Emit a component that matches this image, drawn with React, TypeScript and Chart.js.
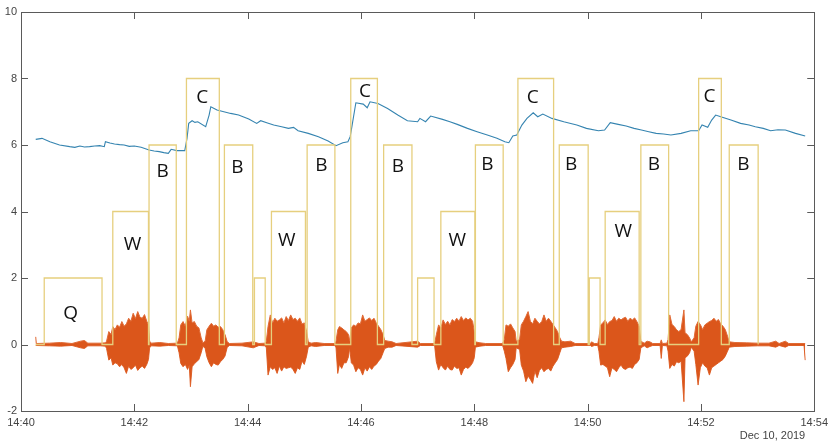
import React, { useEffect, useRef } from "react";
import { Chart, registerables } from "chart.js";

Chart.register(...registerables);

// ---- axis ----
const X_TICK_LABELS = ["14:40", "14:42", "14:44", "14:46", "14:48", "14:50", "14:52", "14:54"];
const DATE_LABEL = "Dec 10, 2019";

// ---- blue series (minutes after 14:40, value) ----
const BLUE_T = [0.26, 0.37, 0.51, 0.68, 0.86, 0.95, 1.04, 1.12, 1.21, 1.30, 1.39, 1.47, 1.49, 1.57, 1.65, 1.74, 1.82, 1.91, 2.0, 2.12, 2.26, 2.35, 2.44, 2.52, 2.6, 2.65, 2.75, 2.89, 2.93, 2.96, 3.02, 3.07, 3.12, 3.26, 3.32, 3.35, 3.46, 3.58, 3.7, 3.84, 4.02, 4.16, 4.23, 4.35, 4.46, 4.6, 4.72, 4.81, 4.89, 5.07, 5.25, 5.42, 5.56, 5.68, 5.77, 5.81, 5.84, 5.91, 6.04, 6.11, 6.16, 6.3, 6.47, 6.65, 6.82, 7.0, 7.04, 7.14, 7.23, 7.44, 7.57, 7.7, 7.88, 8.05, 8.23, 8.4, 8.54, 8.61, 8.68, 8.75, 8.84, 8.93, 9.04, 9.12, 9.21, 9.37, 9.58, 9.81, 9.98, 10.19, 10.3, 10.4, 10.54, 10.68, 10.82, 10.95, 11.08, 11.21, 11.34, 11.47, 11.65, 11.82, 11.96, 12.02, 12.12, 12.19, 12.26, 12.35, 12.53, 12.7, 12.85, 12.96, 13.1, 13.23, 13.36, 13.49, 13.67, 13.84];
const BLUE_V = [6.17, 6.2, 6.1, 6.0, 5.95, 5.93, 5.97, 5.94, 5.95, 5.97, 5.98, 5.95, 6.1, 6.06, 6.03, 6.01, 6.0, 5.96, 5.97, 5.93, 5.85, 5.82, 5.8, 5.77, 5.75, 5.87, 5.83, 5.83, 6.2, 6.65, 6.73, 6.68, 6.7, 6.55, 6.9, 7.15, 7.05, 7.0, 6.95, 6.9, 6.78, 6.65, 6.73, 6.66, 6.6, 6.55, 6.5, 6.53, 6.43, 6.35, 6.25, 6.12, 5.98, 6.07, 6.1, 6.25, 6.55, 7.27, 7.23, 7.12, 7.3, 7.25, 7.1, 6.9, 6.73, 6.7, 6.8, 6.7, 6.87, 6.77, 6.7, 6.62, 6.5, 6.4, 6.3, 6.2, 6.1, 6.07, 6.27, 6.3, 6.6, 6.8, 6.97, 6.85, 6.93, 6.8, 6.7, 6.6, 6.5, 6.43, 6.45, 6.67, 6.62, 6.57, 6.5, 6.45, 6.4, 6.35, 6.33, 6.3, 6.35, 6.43, 6.43, 6.6, 6.53, 6.75, 6.9, 6.85, 6.75, 6.65, 6.6, 6.55, 6.5, 6.43, 6.46, 6.45, 6.35, 6.27];

// ---- orange signal envelope (minutes, upper, lower) ----
const ORANGE_T = [0.26, 0.27, 0.5, 0.7, 0.9, 1.05, 1.12, 1.18, 1.4, 1.49,
  1.51, 1.55, 1.59, 1.62, 1.66, 1.7, 1.74, 1.78, 1.82, 1.86, 1.9, 1.94, 1.98, 2.02, 2.06, 2.1, 2.14, 2.18, 2.22, 2.25, 2.27, 2.3,
  2.45, 2.6, 2.76,
  2.79, 2.82, 2.86, 2.9, 2.94, 2.97, 2.99, 3.02, 3.06, 3.1, 3.14, 3.18, 3.21,
  3.25, 3.28, 3.32, 3.36, 3.4, 3.44, 3.48, 3.52, 3.56, 3.6, 3.64, 3.68,
  3.9, 4.1, 4.2, 4.31,
  4.33, 4.36, 4.4, 4.44, 4.48, 4.52, 4.56, 4.6, 4.64, 4.68, 4.72, 4.76, 4.8, 4.84, 4.88, 4.92, 4.96, 5.0, 5.04, 5.07, 5.12, 5.2, 5.35, 5.54,
  5.56, 5.59, 5.62, 5.66, 5.7, 5.74, 5.78, 5.8,
  5.83, 5.87, 5.91, 5.95, 5.99, 6.03, 6.07, 6.11, 6.15, 6.19, 6.23, 6.27, 6.31, 6.35, 6.39, 6.42, 6.48, 6.55, 6.62, 7.0, 7.05, 7.3,
  7.33, 7.37, 7.41, 7.45, 7.49, 7.53, 7.57, 7.61, 7.65, 7.69, 7.73, 7.77, 7.81, 7.85, 7.89, 7.93, 7.97, 8.0, 8.02, 8.1, 8.2, 8.5,
  8.53, 8.56, 8.6, 8.64, 8.68, 8.72, 8.74,
  8.8, 8.83, 8.87, 8.91, 8.95, 8.99, 9.03, 9.07, 9.11, 9.15, 9.19, 9.23, 9.27, 9.31, 9.35, 9.39, 9.43, 9.47, 9.51, 9.54, 9.6, 9.7, 9.78, 10.05, 10.07, 10.12, 10.18,
  10.2, 10.23, 10.27, 10.31, 10.35, 10.39, 10.43, 10.47, 10.51, 10.55, 10.59, 10.63, 10.67, 10.71, 10.75, 10.79, 10.83, 10.87, 10.91, 10.94, 11.0, 11.05, 11.1, 11.15, 11.28, 11.3, 11.32, 11.4,
  11.42, 11.45, 11.49, 11.53, 11.57, 11.61, 11.65, 11.7, 11.72, 11.76, 11.8, 11.83,
  11.88, 11.91, 11.95, 11.99, 12.03, 12.07, 12.11, 12.15, 12.19, 12.23, 12.27, 12.31, 12.35, 12.39, 12.43, 12.47, 12.5, 12.6, 12.8, 13.0, 13.2, 13.32, 13.38, 13.49, 13.55, 13.82, 13.84];
const ORANGE_HI = [0.23, 0.03, 0.04, 0.06, 0.03, 0.1, 0.12, 0.04, 0.04, 0.05,
  0.1, 0.39, 0.3, 0.54, 0.45, 0.59, 0.52, 0.69, 0.55, 0.62, 0.79, 0.7, 0.94, 0.78, 0.99, 0.82, 0.79, 0.9, 0.7, 0.6, 0.1, 0.04,
  0.06, 0.03, 0.04,
  0.2, 0.59, 0.69, 0.55, 0.85, 0.7, 1.04, 0.65, 0.69, 0.55, 0.5, 0.2, 0.05,
  0.1, 0.44, 0.55, 0.64, 0.55, 0.59, 0.52, 0.54, 0.45, 0.3, 0.08, 0.03,
  0.04, 0.08, 0.03, 0.04,
  0.1, 0.54, 0.89, 0.65, 0.79, 0.7, 0.74, 0.8, 0.65, 0.84, 0.72, 0.89, 0.75, 0.79, 0.7, 0.8, 0.62, 0.65, 0.4, 0.08, 0.04, 0.06, 0.03, 0.03,
  0.1, 0.44, 0.54, 0.5, 0.44, 0.39, 0.3, 0.1,
  0.5, 0.59, 0.55, 0.65, 0.62, 0.89, 0.7, 0.75, 0.8, 0.72, 0.79, 0.65, 0.55, 0.45, 0.3, 0.12, 0.1, 0.08, 0.03, 0.1, 0.03, 0.03,
  0.29, 0.59, 0.5, 0.74, 0.6, 0.7, 0.59, 0.75, 0.69, 0.79, 0.7, 0.84, 0.72, 0.8, 0.74, 0.79, 0.7, 0.4, 0.08, 0.05, 0.03, 0.03,
  0.15, 0.59, 0.55, 0.62, 0.5, 0.39, 0.1,
  0.15, 0.59, 0.7, 0.84, 0.99, 0.7, 0.62, 0.79, 0.7, 0.62, 0.69, 0.89, 0.7, 0.79, 0.7, 0.6, 0.5, 0.39, 0.2, 0.1, 0.08, 0.1, 0.03, 0.03, 0.08, 0.03, 0.03,
  0.2, 0.59, 0.65, 0.74, 0.6, 0.69, 0.72, 0.84, 0.7, 0.79, 0.74, 0.79, 0.82, 0.7, 0.79, 0.74, 0.8, 0.69, 0.55, 0.1, 0.04, 0.1, 0.08, 0.03, 0.03, 0.14, 0.03, 0.04,
  0.15, 0.89, 0.6, 0.54, 0.44, 0.39, 0.45, 1.04, 0.35, 0.3, 0.2, 0.08,
  0.2, 0.55, 0.69, 0.6, 0.45, 0.59, 0.64, 0.69, 0.72, 0.79, 0.7, 0.75, 0.62, 0.55, 0.45, 0.25, 0.08, 0.06, 0.05, 0.04, 0.04, 0.1, 0.03, 0.1, 0.03, 0.03, 0.03];
const ORANGE_LO = [-0.03, -0.03, -0.04, -0.05, -0.03, -0.1, -0.12, -0.04, -0.04, -0.05,
  -0.12, -0.47, -0.4, -0.62, -0.55, -0.58, -0.67, -0.6, -0.7, -0.87, -0.65, -0.75, -0.7, -0.62, -0.78, -0.7, -0.65, -0.72, -0.6, -0.45, -0.1, -0.04,
  -0.05, -0.03, -0.04,
  -0.25, -0.57, -0.67, -0.6, -0.75, -0.62, -1.27, -0.67, -0.58, -0.52, -0.45, -0.25, -0.05,
  -0.12, -0.37, -0.55, -0.67, -0.55, -0.6, -0.62, -0.52, -0.45, -0.35, -0.08, -0.03,
  -0.04, -0.1, -0.03, -0.04,
  -0.1, -0.92, -0.67, -0.75, -0.7, -0.87, -0.65, -0.8, -0.67, -0.72, -0.7, -0.68, -0.75, -0.87, -0.7, -0.75, -0.5, -0.6, -0.35, -0.08, -0.04, -0.06, -0.03, -0.03,
  -0.1, -0.87, -0.6, -0.72, -0.55, -0.55, -0.37, -0.1,
  -0.55, -0.62, -0.82, -0.7, -0.75, -0.92, -0.7, -0.8, -0.67, -0.75, -0.65, -0.6, -0.5, -0.42, -0.25, -0.12, -0.08, -0.08, -0.03, -0.08, -0.03, -0.03,
  -0.52, -0.77, -0.6, -0.7, -0.77, -0.65, -0.75, -0.77, -0.65, -0.72, -0.7, -0.92, -0.75, -0.68, -0.72, -0.65, -0.55, -0.4, -0.08, -0.05, -0.03, -0.03,
  -0.2, -0.42, -0.82, -0.7, -0.6, -0.45, -0.1,
  -0.15, -0.62, -0.8, -1.12, -0.95, -1.05, -1.17, -0.8, -1.0, -0.78, -0.7, -0.82, -0.75, -0.72, -0.8, -0.65, -0.55, -0.45, -0.25, -0.1, -0.08, -0.06, -0.03, -0.03, -0.06, -0.03, -0.03,
  -0.2, -0.62, -0.6, -0.65, -0.7, -0.97, -0.7, -0.75, -0.82, -0.7, -0.62, -0.72, -0.75, -0.7, -0.68, -0.72, -0.6, -0.55, -0.45, -0.1, -0.04, -0.1, -0.06, -0.03, -0.03, -0.42, -0.03, -0.04,
  -0.2, -0.72, -0.6, -0.65, -0.52, -0.55, -0.5, -1.72, -0.4, -0.35, -0.25, -0.08,
  -0.2, -0.6, -1.22, -0.7, -0.55, -0.65, -0.7, -0.92, -0.7, -0.65, -0.6, -0.55, -0.5, -0.45, -0.35, -0.2, -0.08, -0.06, -0.05, -0.04, -0.04, -0.08, -0.03, -0.08, -0.03, -0.03, -0.47];

// ---- yellow rectangles ----
const YELLOW_BEGIN = 0.26;
const YELLOW_FINISH = 13.01;
const YELLOW_START = [0.41, 1.62, 2.26, 2.92, 3.59, 4.12, 4.42, 5.05, 5.82, 6.4, 7.0, 7.41, 8.02, 8.77, 9.5, 10.03, 10.31, 10.94, 11.96, 12.5];
const YELLOW_END = [1.43, 2.25, 2.74, 3.5, 4.09, 4.31, 5.02, 5.54, 6.29, 6.9, 7.29, 8.01, 8.51, 9.4, 10.01, 10.22, 10.91, 11.43, 12.36, 13.01];
const YELLOW_LEVEL = [2, 4, 6, 8, 6, 2, 4, 6, 8, 6, 2, 4, 6, 8, 6, 2, 4, 6, 8, 6];

// ---- text labels ----
const LABEL_TEXT = ["Q", "W", "B", "C", "B", "W", "B", "C", "B", "W", "B", "C", "B", "W", "B", "C", "B"];
const LABEL_X = [0.875, 1.97, 2.5, 3.2, 3.82, 4.69, 5.3, 6.07, 6.65, 7.7, 8.23, 9.03, 9.71, 10.63, 11.17, 12.15, 12.75];
const LABEL_Y = [0.94, 2.99, 5.2, 7.43, 5.32, 3.14, 5.38, 7.6, 5.35, 3.14, 5.4, 7.43, 5.4, 3.39, 5.4, 7.45, 5.4];

export default function App() {
  const ref = useRef<HTMLCanvasElement | null>(null);

  useEffect(() => {
    if (!ref.current) return;

    const yellowPts: { x: number; y: number }[] = [{ x: YELLOW_BEGIN, y: 0 }];
    YELLOW_START.forEach((s, i) => {
      yellowPts.push({ x: s, y: 0 }, { x: s, y: YELLOW_LEVEL[i] }, { x: YELLOW_END[i], y: YELLOW_LEVEL[i] }, { x: YELLOW_END[i], y: 0 });
    });
    yellowPts.push({ x: YELLOW_FINISH, y: 0 });

    const blue = BLUE_T.map((t, i) => ({ x: t, y: BLUE_V[i] }));
    const hi = ORANGE_T.map((t, i) => ({ x: t, y: ORANGE_HI[i] }));
    const lo = ORANGE_T.map((t, i) => ({ x: t, y: ORANGE_LO[i] }));

    const axisPlugin = {
      id: "matlabAxes",
      afterDatasetsDraw(chart: any) {
        const { ctx, chartArea: a, scales } = chart;
        ctx.save();
        // labels
        ctx.fillStyle = "#111";
        ctx.font = '19px "Open Sans", sans-serif';
        ctx.textAlign = "center";
        ctx.textBaseline = "middle";
        LABEL_TEXT.forEach((txt, i) => {
          ctx.fillText(txt, scales.x.getPixelForValue(LABEL_X[i]), scales.y.getPixelForValue(LABEL_Y[i]));
        });
        // box
        ctx.strokeStyle = "#5a5a5a";
        ctx.lineWidth = 1;
        ctx.strokeRect(Math.round(a.left) + 0.5, Math.round(a.top) + 0.5, Math.round(a.right - a.left), Math.round(a.bottom - a.top));
        const tl = 7;
        ctx.beginPath();
        for (let v = 0; v <= 14; v += 2) {
          const px = Math.round(scales.x.getPixelForValue(v)) + 0.5;
          ctx.moveTo(px, a.bottom);
          ctx.lineTo(px, a.bottom - tl);
          ctx.moveTo(px, a.top);
          ctx.lineTo(px, a.top + tl);
        }
        for (let v = -2; v <= 10; v += 2) {
          const py = Math.round(scales.y.getPixelForValue(v)) + 0.5;
          ctx.moveTo(a.left, py);
          ctx.lineTo(a.left + tl, py);
          ctx.moveTo(a.right, py);
          ctx.lineTo(a.right - tl, py);
        }
        ctx.stroke();
        // date
        ctx.fillStyle = "#444";
        ctx.font = '11px "Liberation Sans", Arial, sans-serif';
        ctx.textAlign = "right";
        ctx.textBaseline = "middle";
        ctx.fillText(DATE_LABEL, a.right - 9, a.bottom + 25);
        ctx.restore();
      },
    };

    const chart = new Chart(ref.current, {
      type: "line",
      data: {
        datasets: [
          { label: "yellow", data: yellowPts, borderColor: "#E6CF7E", borderWidth: 1.3, pointRadius: 0, fill: false, tension: 0, order: 0 },
          { label: "orangeHi", data: hi, borderColor: "#E06A35", backgroundColor: "#DB561B", borderWidth: 1, pointRadius: 0, fill: "+1", tension: 0, order: 1 },
          { label: "orangeLo", data: lo, borderColor: "#E06A35", borderWidth: 1, pointRadius: 0, fill: false, tension: 0, order: 1 },
          { label: "blue", data: blue, borderColor: "#3584B0", borderWidth: 1.1, pointRadius: 0, fill: false, tension: 0, order: 2 },
        ],
      },
      options: {
        animation: false,
        responsive: false,
        devicePixelRatio: 1,
        parsing: true,
        layout: { padding: { top: 12, right: 14, left: 0, bottom: 0 } },
        plugins: { legend: { display: false }, tooltip: { enabled: false } },
        scales: {
          x: {
            type: "linear",
            min: 0,
            max: 14,
            grid: { display: false, drawTicks: false },
            border: { display: false },
            ticks: {
              stepSize: 2,
              autoSkip: false,
              maxRotation: 0,
              padding: 5,
              color: "#444",
              font: { size: 11, family: '"Liberation Sans", Arial, sans-serif' },
              callback: (v: any) => X_TICK_LABELS[Math.round(Number(v) / 2)] ?? "",
            },
            afterFit: (s: any) => { s.height = 31; },
          },
          y: {
            min: -2,
            max: 10,
            grid: { display: false, drawTicks: false },
            border: { display: false },
            ticks: {
              stepSize: 2,
              padding: 4,
              color: "#444",
              font: { size: 11, family: '"Liberation Sans", Arial, sans-serif' },
            },
            afterFit: (s: any) => { s.width = 21; },
          },
        },
      },
      plugins: [axisPlugin],
    });
    return () => chart.destroy();
  }, []);

  return (
    <div style={{ position: "fixed", left: 0, top: 0, width: 833, height: 442, background: "#fff" }}>
      <canvas ref={ref} width={833} height={442} style={{ display: "block" }} />
    </div>
  );
}
